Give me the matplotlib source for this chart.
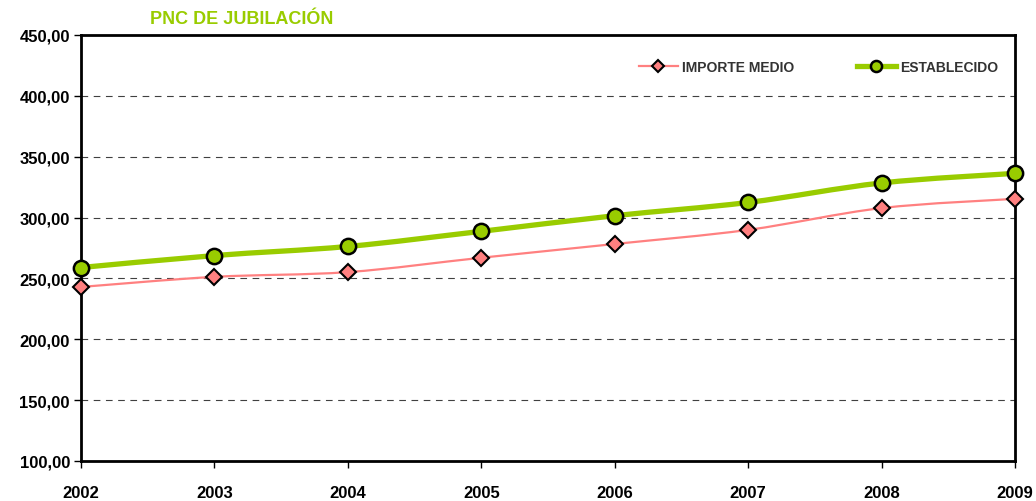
import numpy as np
import matplotlib
matplotlib.use("Agg")
import matplotlib.pyplot as plt
from matplotlib.path import Path
from matplotlib.patches import PathPatch
from matplotlib.lines import Line2D

plt.rcParams['font.family'] = ['Liberation Sans Narrow', 'Liberation Sans', 'DejaVu Sans']

years = [2002, 2003, 2004, 2005, 2006, 2007, 2008, 2009]
importe_medio = [243.0, 251.3, 255.2, 267.0, 278.3, 289.9, 307.8, 315.4]
establecido = [258.96, 268.79, 276.26, 288.69, 301.55, 312.43, 328.44, 336.33]

GREEN = '#99CC00'
PINK = '#FF8080'


def smooth_path(x, y):
    # curva suave tipo Excel (Catmull-Rom -> Bezier), solo para el trazo
    x = np.asarray(x, float)
    y = np.asarray(y, float)
    verts = [(x[0], y[0])]
    codes = [Path.MOVETO]
    n = len(x)
    for i in range(n - 1):
        p0 = (x[max(i - 1, 0)], y[max(i - 1, 0)])
        p1 = (x[i], y[i])
        p2 = (x[i + 1], y[i + 1])
        p3 = (x[min(i + 2, n - 1)], y[min(i + 2, n - 1)])
        c1 = (p1[0] + (p2[0] - p0[0]) / 6, p1[1] + (p2[1] - p0[1]) / 6)
        c2 = (p2[0] - (p3[0] - p1[0]) / 6, p2[1] - (p3[1] - p1[1]) / 6)
        verts += [c1, c2, p2]
        codes += [Path.CURVE4] * 3
    return Path(verts, codes)


fig = plt.figure(figsize=(10.36, 5.02), dpi=100)
ax = fig.add_axes([81 / 1036, 1 - 462 / 502, (1015 - 81) / 1036, (462 - 36) / 502])

ax.add_patch(PathPatch(smooth_path(years, importe_medio), fill=False,
                       edgecolor=PINK, lw=1.6, zorder=3))
ax.add_patch(PathPatch(smooth_path(years, establecido), fill=False,
                       edgecolor=GREEN, lw=3.8, zorder=4))
ax.plot(years, importe_medio, ls='none', marker='D', ms=8, mfc=PINK,
        mec='black', mew=1.5, zorder=5, clip_on=False)
ax.plot(years, establecido, ls='none', marker='o', ms=11, mfc=GREEN,
        mec='black', mew=1.8, zorder=6, clip_on=False)

ax.set_xlim(2002, 2009)
ax.set_ylim(100, 450)
ax.set_yticks(np.arange(100, 451, 50))
ax.set_yticklabels([f'{v:.2f}'.replace('.', ',') for v in np.arange(100, 451, 50)],
                   fontsize=12, fontweight='bold')
ax.set_xticks(years)
ax.set_xticklabels([str(y) for y in years], fontsize=12, fontweight='bold')
ax.tick_params(axis='y', direction='out', length=5, width=1, pad=3)
ax.tick_params(axis='x', direction='out', length=5, width=1, pad=12)

for v in range(150, 450, 50):
    ax.axhline(v, color='#404040', lw=0.8, ls=(0, (6, 5)), zorder=1)

for s in ax.spines.values():
    s.set_linewidth(2)
    s.set_color('black')

handles = [
    Line2D([], [], color=PINK, lw=1.6, marker='D', ms=6, mfc=PINK, mec='black', mew=1.5),
    Line2D([], [], color=GREEN, lw=3.8, marker='o', ms=8, mfc=GREEN, mec='black', mew=1.8),
]
leg = ax.legend(handles, ['IMPORTE MEDIO', 'ESTABLECIDO'], loc='upper right',
                bbox_to_anchor=(0.995, 0.97), ncol=2, frameon=False,
                columnspacing=4.5, handlelength=2.8, handletextpad=0.3,
                prop={'size': 10, 'weight': 'bold'})
for t in leg.get_texts():
    t.set_color('#333333')

fig.text(150 / 1036, 1 - 20 / 502, 'PNC DE JUBILACIÓN', color=GREEN,
         fontsize=13, fontweight='bold', ha='left', va='center')

fig.savefig('out.png', dpi=100)
